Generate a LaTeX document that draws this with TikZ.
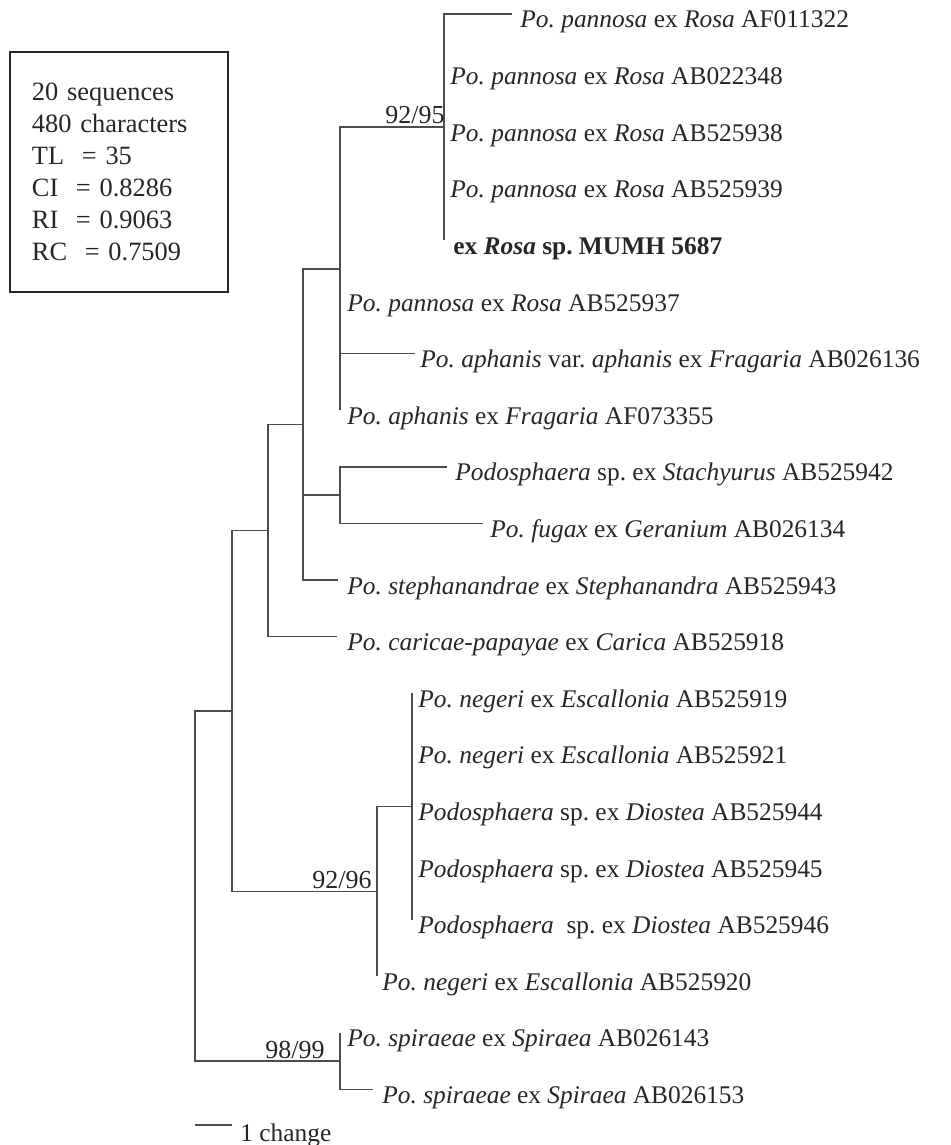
\documentclass[tikz,border=0pt]{standalone}
\usepackage{fontspec}
\setmainfont{Liberation Serif}
\usetikzlibrary{positioning}
\frenchspacing

\begin{document}
\begin{tikzpicture}[x=0.5pt, y=-0.5pt,
  branch/.style={draw=black!70, line width=0.8pt},
  leaf/.style={anchor=base west, inner sep=0pt, text=black!85, font=\fontsize{12.7}{14}\selectfont},
  support/.style={anchor=base east, inner sep=0pt, text=black!85, font=\fontsize{13}{14}\selectfont},
  statbox/.style={draw=black!85, line width=1.2pt, align=left, text width=87pt, inner xsep=11pt,
    minimum height=120pt, text=black!85, font=\fontsize{13.2}{16}\selectfont}]

    \useasboundingbox (0,0) rectangle (950,1145);

    % summary box
    \node[statbox] (stats) at (119,172) {20 sequences\\480 characters\\TL~ = 35\\CI~ = 0.8286\\RI~ = 0.9063\\RC~ = 0.7509};

    % internal nodes
    \coordinate (cA) at (444,127.2);
    \coordinate (cB) at (340,268.7);
    \coordinate (cC) at (340,495.1);
    \coordinate (cD) at (303,424.4);
    \coordinate (cE) at (268,530.5);
    \coordinate (cF) at (412,806.4);
    \coordinate (cG) at (377,891.3);
    \coordinate (cH) at (232,710.9);
    \coordinate (cI) at (340,1061.1);
    \coordinate (root) at (195,886);

    % tips
    \coordinate (t0) at (512,14);
    \coordinate (t1) at (444,70.6);
    \coordinate (t2) at (444,127.2);
    \coordinate (t3) at (444,183.8);
    \coordinate (t4) at (444,240.4);
    \coordinate (t5) at (340,297);
    \coordinate (t6) at (415,353.6);
    \coordinate (t7) at (340,410.2);
    \coordinate (t8) at (447,466.8);
    \coordinate (t9) at (483,523.4);
    \coordinate (t10) at (338,580);
    \coordinate (t11) at (337,636.6);
    \coordinate (t12) at (412,693.2);
    \coordinate (t13) at (412,749.8);
    \coordinate (t14) at (412,806.4);
    \coordinate (t15) at (412,863);
    \coordinate (t16) at (412,919.6);
    \coordinate (t17) at (377,976.2);
    \coordinate (t18) at (340,1032.8);
    \coordinate (t19) at (373,1089.4);

    % taxa
    \node[leaf] (l0) at (520,28) {\textit{Po. pannosa} ex \textit{Rosa} AF011322};
    \node[leaf] (l1) at (450,84.6) {\textit{Po. pannosa} ex \textit{Rosa} AB022348};
    \node[leaf] (l2) at (450,141.2) {\textit{Po. pannosa} ex \textit{Rosa} AB525938};
    \node[leaf] (l3) at (450,197.8) {\textit{Po. pannosa} ex \textit{Rosa} AB525939};
    \node[leaf] (l4) at (453,254.4) {\textbf{ex \textit{Rosa} sp. MUMH 5687}};
    \node[leaf] (l5) at (347,311) {\textit{Po. pannosa} ex \textit{Rosa} AB525937};
    \node[leaf] (l6) at (420,367.6) {\textit{Po. aphanis} var. \textit{aphanis} ex \textit{Fragaria} AB026136};
    \node[leaf] (l7) at (347,424.2) {\textit{Po. aphanis} ex \textit{Fragaria} AF073355};
    \node[leaf] (l8) at (455,480.8) {\textit{Podosphaera} sp. ex \textit{Stachyurus} AB525942};
    \node[leaf] (l9) at (490,537.4) {\textit{Po. fugax} ex \textit{Geranium} AB026134};
    \node[leaf] (l10) at (347,594) {\textit{Po. stephanandrae} ex \textit{Stephanandra} AB525943};
    \node[leaf] (l11) at (347,650.6) {\textit{Po. caricae-papayae} ex \textit{Carica} AB525918};
    \node[leaf] (l12) at (418,707.2) {\textit{Po. negeri} ex \textit{Escallonia} AB525919};
    \node[leaf] (l13) at (418,763.8) {\textit{Po. negeri} ex \textit{Escallonia} AB525921};
    \node[leaf] (l14) at (418,820.4) {\textit{Podosphaera} sp. ex \textit{Diostea} AB525944};
    \node[leaf] (l15) at (418,877) {\textit{Podosphaera} sp. ex \textit{Diostea} AB525945};
    \node[leaf] (l16) at (418,933.6) {\textit{Podosphaera}~ sp. ex \textit{Diostea} AB525946};
    \node[leaf] (l17) at (382,990.2) {\textit{Po. negeri} ex \textit{Escallonia} AB525920};
    \node[leaf] (l18) at (347,1046.8) {\textit{Po. spiraeae} ex \textit{Spiraea} AB026143};
    \node[leaf] (l19) at (382,1103.4) {\textit{Po. spiraeae} ex \textit{Spiraea} AB026153};

    % branches
    \draw[branch] (cA) |- (t0);
    \draw[branch] (cA) |- (t1);
    \draw[branch] (cA) |- (t3);
    \draw[branch] (cA) |- (t4);
    \draw[branch] (cB) |- (cA);
    \draw[branch] (cB) |- (t5);
    \draw[branch] (cB) |- (t6);
    \draw[branch] (cB) |- (t7);
    \draw[branch] (cC) |- (t8);
    \draw[branch] (cC) |- (t9);
    \draw[branch] (cD) |- (cB);
    \draw[branch] (cD) |- (cC);
    \draw[branch] (cD) |- (t10);
    \draw[branch] (cE) |- (cD);
    \draw[branch] (cE) |- (t11);
    \draw[branch] (cF) |- (t12);
    \draw[branch] (cF) |- (t16);
    \draw[branch] (cG) |- (cF);
    \draw[branch] (cG) |- (t17);
    \draw[branch] (cH) |- (cE);
    \draw[branch] (cH) |- (cG);
    \draw[branch] (cI) |- (t18);
    \draw[branch] (cI) |- (t19);
    \draw[branch] (root) |- (cH);
    \draw[branch] (root) |- (cI);

    % bootstrap values
    \node[support] (bA) at (445,124) {92/95};
    \node[support] (bG) at (372,888) {92/96};
    \node[support] (bI) at (325,1058) {98/99};

    % scale bar
    \coordinate (s0) at (195,1125);
    \coordinate (s1) at (232,1125);
    \draw[branch] (s0) -- (s1);
    \node[leaf] (scale) at (240,1141) {1 change};

\end{tikzpicture}
\end{document}
